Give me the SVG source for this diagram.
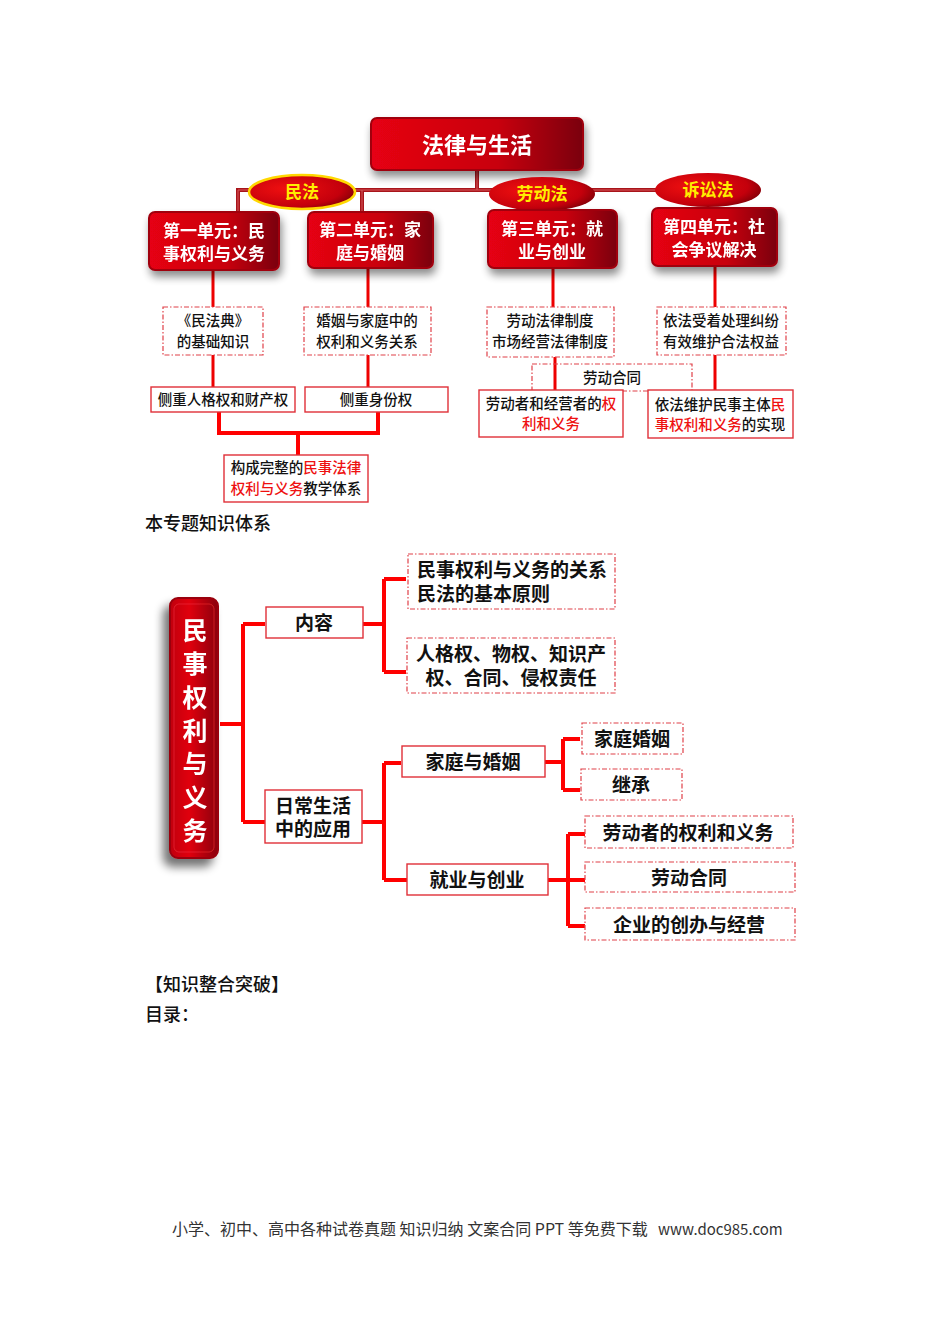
<svg xmlns="http://www.w3.org/2000/svg" width="950" height="1344" viewBox="0 0 950 1344">
<defs>
<linearGradient id="rg" x1="0" y1="0" x2="1" y2="0">
<stop offset="0" stop-color="#e60012"/><stop offset="0.6" stop-color="#c8000e"/><stop offset="1" stop-color="#7a0008"/>
</linearGradient>
<linearGradient id="rgv" x1="0" y1="0" x2="1" y2="0">
<stop offset="0" stop-color="#c00010"/><stop offset="0.4" stop-color="#e0000f"/><stop offset="1" stop-color="#8a0008"/>
</linearGradient>
<radialGradient id="eg" cx="0.35" cy="0.4" r="0.75">
<stop offset="0" stop-color="#f01010"/><stop offset="0.7" stop-color="#c4000c"/><stop offset="1" stop-color="#6e0006"/>
</radialGradient>
<filter id="sh" x="-20%" y="-20%" width="150%" height="160%">
<feGaussianBlur in="SourceAlpha" stdDeviation="4"/>
<feOffset dx="2" dy="6" result="b"/>
<feComponentTransfer><feFuncA type="linear" slope="0.45"/></feComponentTransfer>
<feMerge><feMergeNode/><feMergeNode in="SourceGraphic"/></feMerge>
</filter>
<filter id="sh2" x="-60%" y="-10%" width="200%" height="130%">
<feGaussianBlur in="SourceAlpha" stdDeviation="5"/>
<feOffset dx="-6" dy="8" result="b"/>
<feComponentTransfer><feFuncA type="linear" slope="0.55"/></feComponentTransfer>
<feMerge><feMergeNode/><feMergeNode in="SourceGraphic"/></feMerge>
</filter>
</defs>
<style>
text{font-family:"Noto Sans CJK SC","Noto Sans",sans-serif;}
.rb{fill:url(#rg);stroke:#a00010;stroke-width:2;}
.wt{fill:#fff;font-weight:bold;font-size:17px;text-anchor:middle;}
.yt{fill:#ffee00;font-weight:bold;font-size:17px;text-anchor:middle;}
.dash{fill:#fff;stroke:#e04048;stroke-width:1.2;stroke-dasharray:5 2 1.5 2;}
.sol{fill:#fff;stroke:#e03038;stroke-width:1.4;}
.bt{fill:#111;font-size:14.5px;text-anchor:middle;font-weight:500;}
.bt2{fill:#111;font-size:19px;text-anchor:middle;font-weight:bold;}
.rd{fill:#ee1111;}
.ln{stroke:#ee0000;stroke-width:3;fill:none;}
.ln2{stroke:#ff0000;stroke-width:4;fill:none;}
.tc{stroke:#a8141a;stroke-width:4;fill:none;}
.tci{stroke:#d8585c;stroke-width:1;fill:none;}
.pt{font-size:18px;fill:#111;font-weight:500;}
</style>
<rect width="950" height="1344" fill="#fff"/>

<!-- top connectors -->
<g id="connectors-top">
<path class="tc" d="M477,170 V190 M238,212 V190 H680 M362,190 V212"/>
<path class="tci" d="M477,170 V190 M238,212 V190 H680 M362,190 V212"/>
<path class="ln" d="M213,270 V307 M213,355 V387 M368,268 V307 M368,355 V387 M553,268 V307 M555,357 V392 M715,266 V307 M715,355 V390"/>
<path class="ln2" d="M219,412 V433 H378 V412 M298,433 V455"/>
</g>

<g id="title" filter="url(#sh)">
<rect class="rb" x="371" y="118" width="212" height="52" rx="6"/>
<text class="wt" x="477" y="153" style="font-size:22px">法律与生活</text>
</g>
<g id="minfa">
<ellipse cx="302" cy="192" rx="53" ry="17" fill="url(#eg)" stroke="#ffd800" stroke-width="2.5"/>
<text class="yt" x="302" y="198">民法</text>
</g>
<g id="laodongfa">
<ellipse cx="542" cy="194" rx="53" ry="17" fill="url(#eg)"/>
<text class="yt" x="542" y="200">劳动法</text>
</g>
<g id="susongfa">
<ellipse cx="708" cy="190" rx="53" ry="17" fill="url(#eg)"/>
<text class="yt" x="708" y="196">诉讼法</text>
</g>
<g id="unit1" filter="url(#sh)">
<rect class="rb" x="149" y="212" width="130" height="58" rx="6"/>
<text class="wt" x="214" y="237">第一单元：民</text><text class="wt" x="214" y="260">事权利与义务</text>
</g>
<g id="unit2" filter="url(#sh)">
<rect class="rb" x="308" y="212" width="125" height="56" rx="6"/>
<text class="wt" x="370" y="236">第二单元：家</text><text class="wt" x="370" y="259">庭与婚姻</text>
</g>
<g id="unit3" filter="url(#sh)">
<rect class="rb" x="488" y="210" width="129" height="58" rx="6"/>
<text class="wt" x="552" y="235">第三单元：就</text><text class="wt" x="552" y="258">业与创业</text>
</g>
<g id="unit4" filter="url(#sh)">
<rect class="rb" x="652" y="208" width="125" height="58" rx="6"/>
<text class="wt" x="714" y="233">第四单元：社</text><text class="wt" x="714" y="256">会争议解决</text>
</g>

<g id="n-mfd"><rect class="dash" x="163" y="307" width="100" height="48"/>
<text class="bt" x="213" y="326">《民法典》</text><text class="bt" x="213" y="347">的基础知识</text></g>
<g id="n-hyjt"><rect class="dash" x="304" y="307" width="127" height="48"/>
<text class="bt" x="367" y="326">婚姻与家庭中的</text><text class="bt" x="367" y="347">权利和义务关系</text></g>
<g id="n-rgq"><rect class="sol" x="151" y="387" width="144" height="25"/>
<text class="bt" x="223" y="405">侧重人格权和财产权</text></g>
<g id="n-sfq"><rect class="sol" x="305" y="387" width="143" height="25"/>
<text class="bt" x="376" y="405">侧重身份权</text></g>
<g id="n-gcwz"><rect class="sol" x="224" y="455" width="144" height="47"/>
<text class="bt" x="296" y="473">构成完整的<tspan class="rd">民事法律</tspan></text>
<text class="bt" x="296" y="494"><tspan class="rd">权利与义务</tspan>教学体系</text></g>
<g id="n-ldfl"><rect class="dash" x="487" y="307" width="127" height="50"/>
<text class="bt" x="550" y="326">劳动法律制度</text><text class="bt" x="550" y="347">市场经营法律制度</text></g>
<g id="n-ldht1"><rect class="dash" x="532" y="364" width="160" height="27" style="fill:none"/>
<text class="bt" x="612" y="383">劳动合同</text></g>
<g id="n-ldzjyz"><rect class="sol" x="479" y="390" width="144" height="47"/>
<text class="bt" x="551" y="409">劳动者和经营者的<tspan class="rd">权</tspan></text>
<text class="bt" x="551" y="429"><tspan class="rd">利和义务</tspan></text></g>
<g id="n-yfsl"><rect class="dash" x="657" y="307" width="129" height="48"/>
<text class="bt" x="721" y="326">依法受着处理纠纷</text><text class="bt" x="721" y="347">有效维护合法权益</text></g>
<g id="n-yfwh"><rect class="sol" x="648" y="390" width="145" height="48"/>
<text class="bt" x="720" y="410">依法维护民事主体<tspan class="rd">民</tspan></text>
<text class="bt" x="720" y="430"><tspan class="rd">事权利和义务</tspan>的实现</text></g>

<text class="pt" x="145" y="530">本专题知识体系</text>

<!-- second diagram connectors -->
<g id="connectors-bottom">
<path class="ln2" d="M220,724 H243 M243,624 V822 M243,624 H265 M243,822 H265"/>
<path class="ln2" d="M363,624 H384 M384,579 V672 M384,579 H406 M384,672 H406"/>
<path class="ln2" d="M362,822 H384 M384,763 V880 M384,763 H401 M384,880 H407"/>
<path class="ln2" d="M545,762 H563 M563,739 V790 M563,739 H580 M563,790 H580"/>
<path class="ln2" d="M548,880 H568 M568,834 V926 M568,834 H585 M568,880 H585 M568,926 H585"/>
</g>

<g id="root" filter="url(#sh2)">
<rect x="170" y="598" width="48" height="260" rx="8" fill="url(#rgv)" stroke="#9a000c" stroke-width="2"/>
<rect x="174" y="604" width="40" height="248" rx="5" fill="none" stroke="#f03038" stroke-width="1" opacity="0.6"/>
<g class="wt" style="font-size:25px">
<text x="195" y="640">民</text><text x="195" y="673">事</text><text x="195" y="707">权</text><text x="195" y="740">利</text><text x="195" y="773">与</text><text x="195" y="807">义</text><text x="195" y="840">务</text>
</g>
</g>
<g id="n-nr"><rect class="sol" x="266" y="607" width="97" height="31"/><text class="bt2" x="314" y="630">内容</text></g>
<g id="n-rcsh"><rect class="sol" x="265" y="790" width="97" height="53"/>
<text class="bt2" x="313" y="813">日常生活</text><text class="bt2" x="313" y="836">中的应用</text></g>
<g id="n-gx"><rect class="dash" x="408" y="554" width="207" height="55"/>
<text class="bt2" x="417" y="577" style="text-anchor:start">民事权利与义务的关系</text>
<text class="bt2" x="417" y="601" style="text-anchor:start">民法的基本原则</text></g>
<g id="n-rgq2"><rect class="dash" x="407" y="638" width="208" height="55"/>
<text class="bt2" x="511" y="661">人格权、物权、知识产</text>
<text class="bt2" x="511" y="685">权、合同、侵权责任</text></g>
<g id="n-jtyhy"><rect class="sol" x="402" y="746" width="143" height="31"/><text class="bt2" x="473" y="769">家庭与婚姻</text></g>
<g id="n-jyycy"><rect class="sol" x="407" y="864" width="141" height="31"/><text class="bt2" x="477" y="887">就业与创业</text></g>
<g id="n-jthy"><rect class="dash" x="582" y="723" width="101" height="31"/><text class="bt2" x="632" y="746">家庭婚姻</text></g>
<g id="n-jc"><rect class="dash" x="581" y="769" width="101" height="31"/><text class="bt2" x="631" y="792">继承</text></g>
<g id="n-ldzql"><rect class="dash" x="585" y="816" width="208" height="32"/><text class="bt2" x="688" y="840">劳动者的权利和义务</text></g>
<g id="n-ldht2"><rect class="dash" x="585" y="862" width="210" height="30"/><text class="bt2" x="689" y="885">劳动合同</text></g>
<g id="n-qy"><rect class="dash" x="585" y="908" width="210" height="32"/><text class="bt2" x="689" y="932">企业的创办与经营</text></g>

<text class="pt" x="145" y="991">【知识整合突破】</text>
<text class="pt" x="145" y="1021">目录：</text>
<text x="172" y="1235" style="font-size:16px;fill:#333">小学、初中、高中各种试卷真题 知识归纳 文案合同 PPT 等免费下载</text>
<text x="658" y="1235" style="font-size:15px;fill:#333">www.doc985.com</text>
</svg>
